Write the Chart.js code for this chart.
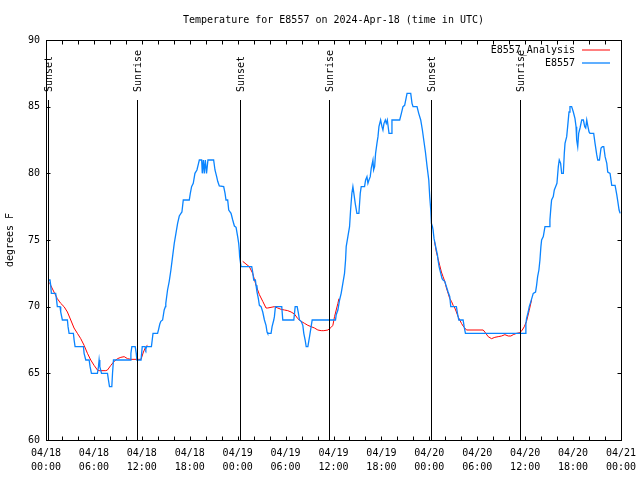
<!DOCTYPE html>
<html lang="en">
<head>
    <meta charset="UTF-8">
    <title>Temperature for E8557</title>
    <script src="https://cdn.jsdelivr.net/npm/chart.js"></script>
    <style>
        body { margin: 0; background: #fff; }
        #grafico { display: block; }
    </style>
</head>
<body>
<canvas id="grafico" width="640" height="480"></canvas>
<script>
    const TITLE = 'Temperature for E8557 on 2024-Apr-18 (time in UTC)';

    // hours since 04/18 00:00 UTC
    const blueHours = [0.25,0.5,0.59,0.67,1.21,1.3,1.42,1.76,1.84,2.05,2.68,2.76,2.89,3.43,3.52,3.64,4.69,4.77,4.98,5.4,
        5.52,5.69,6.44,6.57,6.65,6.74,6.95,7.7,7.82,7.95,8.24,8.33,8.45,10.54,10.63,10.75,11.17,11.3,11.38,11.9,
        12.05,12.4,12.5,12.6,13.2,13.3,13.4,13.97,14.1,14.25,14.38,14.6,14.8,14.95,15.0,15.22,15.43,15.64,15.85,16.06,
        16.27,16.48,16.69,16.9,17.02,17.19,17.94,18.07,18.23,18.44,18.65,18.9,19.1,19.2,19.49,19.57,19.7,19.82,19.95,20.1,
        20.28,20.99,21.16,21.37,21.5,21.7,22.25,22.42,22.54,22.75,22.88,23.17,23.38,23.59,23.8,24.0,24.13,24.2,24.25,24.33,
        24.42,25.76,25.88,26.01,26.22,26.3,26.42,26.59,26.72,26.93,27.14,27.35,27.55,27.68,27.76,28.18,28.31,28.52,28.6,28.73,
        29.52,29.65,31.03,31.2,31.45,31.61,31.74,31.95,32.16,32.28,32.45,32.58,32.79,33.0,33.2,33.33,36.25,36.34,36.55,36.76,
        36.96,37.17,37.38,37.51,37.59,37.8,38.01,38.14,38.3,38.43,38.55,38.72,38.93,39.18,39.35,39.47,39.89,40.02,40.19,40.31,
        40.44,40.6,40.73,40.94,41.02,41.15,41.27,41.44,41.57,41.69,41.9,42.07,42.19,42.32,42.49,42.61,42.74,42.95,43.24,43.32,
        44.29,44.5,44.7,44.91,45.21,45.67,45.83,45.96,46.46,46.67,46.92,47.13,47.3,47.51,47.72,47.93,48.05,48.18,48.26,48.39,
        48.47,48.59,48.76,48.88,49.01,49.09,49.22,49.43,49.6,49.72,49.93,50.14,50.35,50.56,50.68,51.39,51.52,51.69,52.23,52.36,
        52.52,60.05,60.09,60.17,60.38,60.51,60.72,61.01,61.3,61.43,61.56,61.72,61.85,61.97,62.06,62.27,62.48,63.02,63.1,63.23,
        63.31,63.52,63.65,63.81,63.98,64.15,64.27,64.44,64.57,64.78,64.9,64.99,65.2,65.32,65.49,65.61,65.82,66.03,66.24,66.37,
        66.45,66.58,66.7,66.87,67.08,67.29,67.46,67.58,67.71,67.83,68.0,68.12,68.58,68.75,68.96,69.09,69.3,69.5,69.67,69.84,
        70.01,70.22,70.34,70.63,70.84,71.26,71.47,71.6,71.76,71.89];
    const blueTemps = [72,72,71.6,71,71,70.6,70,70,69.6,69,69,68.5,68,68,67.5,67,67,66.5,66,66,
        65.5,65,65,65.5,66,65.5,65,65,64.5,64,64,65,66,66,66.5,67,67,66.5,66,66,
        67,67,66.8,67,67,67.5,68,68,68.3,68.7,68.9,69,69.75,70,70.25,71.25,71.9,72.75,73.75,74.75,
        75.5,76.25,76.8,77,77.1,78,78,78.5,79,79.25,80,80.25,80.75,81,81,80,81,80,81,80,
        81,81,80.25,79.75,79.4,79.05,79,78.5,78,78,77.25,77,76.5,76.05,75.95,75.25,74.75,74.25,73.75,73.4,
        73,73,72.6,72,72,71.6,71.1,70.6,70.1,70,69.6,69,68.6,68.1,68,68,68.5,69,69.25,70,
        70,69,69,70,70,69.5,69,68.9,68.6,68,67.5,67,67,67.75,68.5,69,69,69.4,69.75,70.5,
        71,71.75,72.5,73.5,74.5,75.25,76,77.25,78.5,79,78.5,77.75,77,77,78.5,79,79,79.5,79.75,79.25,
        79.5,79.75,80.4,81,80.25,80.5,81.5,82.25,82.75,83.5,84,83.5,83.25,83.75,84,83.75,84,83,83,84,
        84,84.5,85,85.1,86,86,85.25,85,85,84.5,84,83.25,82.5,81.6,80.5,79.5,78.25,77.25,76.25,76,
        75.75,75.1,74.6,74.25,73.9,73.5,73,72.5,72.1,72,71.9,71.5,71.1,70.75,70,70,69.5,69,69,68.5,
        68,68,68.7,69.1,69.6,70,70.4,71,71.1,71.6,72.25,72.75,73.5,74.5,75,75.25,76,76,76.5,77.5,
        78,78.25,78.75,79,79.25,80.5,81,80.75,80,80,81.5,82.25,82.75,83.5,84.6,85,85,84.6,84.1,83.5,
        82.5,82,83,83.4,84,84,83.5,83.4,84,83.6,83.1,83,83,82.25,81.4,81,81,81.9,82,82,
        81.25,80.75,80.1,80,79.1,79.1,78.4,77.9,77.25,77];

    // analysis curve, one piece per night (null = gap)
    const redHours = [0.45,0.59,1.0,1.42,1.84,2.26,2.68,3.1,3.51,3.93,4.35,4.77,5.19,5.6,6.02,6.44,6.65,7.49,7.7,8.12,
        8.54,8.95,9.37,9.79,10.21,10.63,11.46,11.9,12.2,12.5,12.7,
        18,
        24.63,25.04,25.46,25.88,26.3,26.72,27.14,27.55,27.76,28.6,29.02,29.44,29.86,30.27,30.69,31.11,31.53,31.95,32.37,32.79,
        33.2,33.62,34.04,34.46,34.79,35.3,35.71,35.92,36.13,36.34,36.55,36.68,
        42,
        48.65,48.88,49.09,49.3,49.51,49.72,49.93,50.14,50.35,50.56,50.77,50.98,51.19,51.39,51.6,51.81,52.02,52.23,52.44,52.65,
        54.74,54.95,55.37,55.79,56.2,56.62,57.04,57.46,57.88,58.21,58.51,58.93,59.34,59.64,59.89,60.17,60.5,60.8];
    const redTemps = [71.8,71.6,71.1,70.6,70.25,70,69.6,69,68.4,68,67.6,67.1,66.5,66,65.6,65.25,65.2,65.2,65.25,65.6,
        65.9,66.1,66.2,66.25,66.1,66.05,66.05,66.05,66.6,67,67.1,
        null,
        73.4,73.2,73,72.5,71.6,70.9,70.4,69.9,69.9,70,69.9,69.8,69.75,69.7,69.6,69.45,69.1,68.9,68.75,68.6,
        68.5,68.4,68.25,68.2,68.2,68.25,68.45,68.6,69.25,69.75,70.25,70.6,
        null,
        74.9,74.1,73.6,73.1,72.6,72.25,71.9,71.4,71,70.6,70.4,70.1,69.9,69.6,69.25,69,68.75,68.55,68.4,68.25,
        68.25,68.1,67.75,67.6,67.7,67.75,67.8,67.9,67.8,67.8,67.9,68,68.05,68.25,68.5,68.9,69.7,70.5];

    const sunsetHours = [0.22, 24.25, 48.26];
    const sunriseHours = [11.42, 35.39, 59.37];

    const xTickDates = ['04/18','04/18','04/18','04/18','04/19','04/19','04/19','04/19','04/20','04/20','04/20','04/20','04/21'];
    const xTickTimes = ['00:00','06:00','12:00','18:00','00:00','06:00','12:00','18:00','00:00','06:00','12:00','18:00','00:00'];

    const FONTE = "'DejaVu Sans Mono', 'Liberation Mono', monospace";
    Chart.defaults.font.family = FONTE;
    Chart.defaults.font.size = 10;
    Chart.defaults.color = '#000';

    function pontos(xs, ys) {
        return xs.map((x, i) => ({ x: x, y: ys[i] }));
    }

    // frame, inward ticks, sun lines, legend and title, gnuplot style
    const extras = {
        id: 'extras',
        afterDraw(chart) {
            const ctx = chart.ctx;
            const a = chart.chartArea;
            const sx = chart.scales.x, sy = chart.scales.y;
            const L = Math.round(a.left) + 0.5, R = Math.round(a.right) + 0.5;
            const T = Math.round(a.top) + 0.5, B = Math.round(a.bottom) + 0.5;
            ctx.save();
            ctx.strokeStyle = '#000';
            ctx.lineWidth = 1;
            ctx.beginPath();
            for (let h = 0; h <= 72; h += 2) {
                const px = Math.round(sx.getPixelForValue(h)) + 0.5;
                ctx.moveTo(px, B); ctx.lineTo(px, B - 4);
                ctx.moveTo(px, T); ctx.lineTo(px, T + 4);
            }
            for (let v = 60; v <= 90; v += 5) {
                const py = Math.round(sy.getPixelForValue(v)) + 0.5;
                ctx.moveTo(L, py); ctx.lineTo(L + 4, py);
                ctx.moveTo(R, py); ctx.lineTo(R - 4, py);
            }
            ctx.stroke();
            ctx.strokeRect(L, T, R - L, B - T);

            // sunrise / sunset
            const alto = a.bottom - a.top;
            const topoLinha = a.bottom - 0.85 * alto;
            const baseTexto = a.bottom - 0.87 * alto;
            ctx.font = '10px ' + FONTE;
            ctx.fillStyle = '#000';
            function marca(h, txt) {
                const px = Math.round(sx.getPixelForValue(h)) + 0.5;
                ctx.beginPath();
                ctx.moveTo(px, B); ctx.lineTo(px, topoLinha);
                ctx.stroke();
                ctx.save();
                ctx.translate(px + 1, baseTexto);
                ctx.rotate(-Math.PI / 2);
                ctx.textAlign = 'left';
                ctx.textBaseline = 'middle';
                ctx.fillText(txt, 0, 0);
                ctx.restore();
            }
            sunsetHours.forEach(h => marca(h, 'Sunset'));
            sunriseHours.forEach(h => marca(h, 'Sunrise'));

            // legend
            const itens = chart.data.datasets.slice().reverse();
            itens.forEach((ds, i) => {
                const y = a.top + 10 + i * 13;
                ctx.textAlign = 'right';
                ctx.textBaseline = 'middle';
                ctx.fillText(ds.label, a.right - 46, y);
                ctx.strokeStyle = ds.borderColor;
                ctx.lineWidth = ds.borderWidth;
                ctx.beginPath();
                ctx.moveTo(a.right - 39, y); ctx.lineTo(a.right - 11, y);
                ctx.stroke();
            });

            // title
            ctx.fillStyle = '#000';
            ctx.textAlign = 'center';
            ctx.textBaseline = 'middle';
            ctx.fillText(TITLE, (a.left + a.right) / 2, 20);
            ctx.restore();
        }
    };

    new Chart(document.getElementById('grafico'), {
        type: 'line',
        data: {
            datasets: [
                {
                    label: 'E8557',
                    data: pontos(blueHours, blueTemps),
                    borderColor: '#0a84ff',
                    borderWidth: 1.3,
                    pointRadius: 0,
                    tension: 0
                },
                {
                    label: 'E8557_Analysis',
                    data: pontos(redHours, redTemps),
                    borderColor: '#ff0000',
                    borderWidth: 1,
                    pointRadius: 0,
                    tension: 0,
                    spanGaps: false
                }
            ]
        },
        options: {
            responsive: false,
            animation: false,
            layout: { padding: { top: 40, right: 19, bottom: 0, left: 0 } },
            plugins: {
                legend: { display: false },
                tooltip: { enabled: false },
                title: { display: false }
            },
            scales: {
                x: {
                    type: 'linear',
                    min: 0,
                    max: 72,
                    grid: { display: false, drawTicks: false },
                    border: { display: false },
                    ticks: {
                        stepSize: 2,
                        autoSkip: false,
                        maxRotation: 0,
                        padding: 6,
                        font: { size: 10, lineHeight: 1.4 },
                        callback: function(v) {
                            if (v % 6 !== 0) return '';
                            const i = v / 6;
                            return [xTickDates[i], xTickTimes[i]];
                        }
                    },
                    afterFit: function(s) {
                        s.height = 40;
                        s.paddingLeft = 0;
                        s.paddingRight = 0;
                    }
                },
                y: {
                    min: 60,
                    max: 90,
                    grid: { display: false, drawTicks: false },
                    border: { display: false },
                    ticks: { stepSize: 5, padding: 6 },
                    title: { display: true, text: 'degrees F', padding: { top: 4, bottom: 0 }, font: { size: 10 } },
                    afterFit: function(s) { s.width = 46; }
                }
            }
        },
        plugins: [extras]
    });
</script>
</body>
</html>
